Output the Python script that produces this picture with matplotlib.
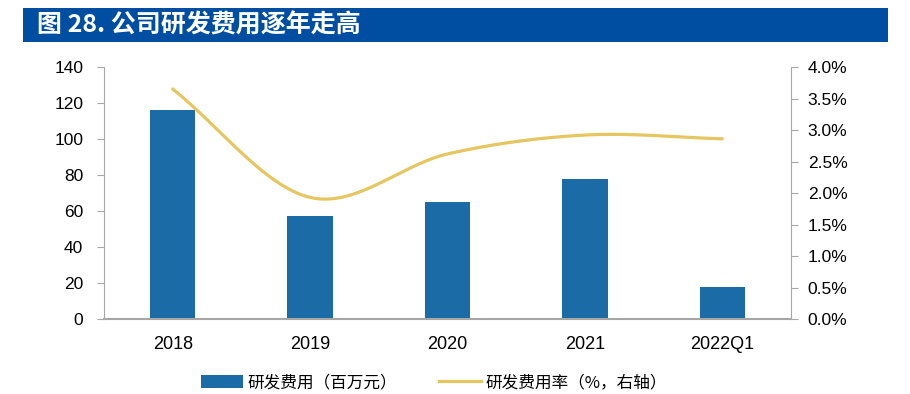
import numpy as np
import matplotlib
matplotlib.use("Agg")
import matplotlib.pyplot as plt
from matplotlib.patches import Rectangle
from matplotlib.lines import Line2D
from matplotlib.patches import Patch

plt.rcParams['font.family'] = ['Liberation Sans', 'Noto Sans CJK SC', 'DejaVu Sans']

categories = ["2018", "2019", "2020", "2021", "2022Q1"]
rd_expense = [116, 57, 65, 78, 18]          # 百万元
rd_ratio = [3.65, 1.93, 2.62, 2.92, 2.86]   # %
left_ticks = [0, 20, 40, 60, 80, 100, 120, 140]
right_ticks = [0.0, 0.5, 1.0, 1.5, 2.0, 2.5, 3.0, 3.5, 4.0]

bar_color = "#1B6CA6"
line_color = "#E5C660"
axis_color = "#A6A6A6"

fig = plt.figure(figsize=(9.1, 3.94), dpi=100)

# title bar
fig.patches.append(Rectangle((23/910, 1-42/394), (888-23)/910, 34/394,
                             transform=fig.transFigure, facecolor="#004EA2",
                             edgecolor="none", zorder=0))
fig.text(37/910, 1-25/394, "图 28. 公司研发费用逐年走高", color="white",
         fontsize=18, fontweight="bold", va="center", ha="left",
         family=['Noto Sans CJK SC', 'DejaVu Sans'])

ax = fig.add_axes([104/910, 1-319/394, (791-104)/910, (319-67)/394])
x = np.arange(len(categories))
ax.bar(x, rd_expense, width=0.33, color=bar_color, zorder=2)
ax.set_xlim(-0.5, len(categories)-0.5)
ax.set_ylim(0, 140)
ax.set_yticks(left_ticks)
ax.set_xticks(x)
ax.set_xticklabels(categories)
for s in ["top", "right"]:
    ax.spines[s].set_visible(False)
ax.spines["left"].set_color(axis_color)
ax.spines["bottom"].set_color(axis_color)
ax.spines["bottom"].set_linewidth(1.5)
ax.tick_params(axis="y", direction="out", length=5, color=axis_color, labelsize=12.5, pad=10)
ax.tick_params(axis="x", length=0, labelsize=13, pad=12)

ax2 = ax.twinx()
ax2.set_ylim(0, 4.0)
ax2.set_yticks(right_ticks)
ax2.set_yticklabels([f"{v:.1f}%" for v in right_ticks])
for s in ["top", "left", "bottom"]:
    ax2.spines[s].set_visible(False)
ax2.spines["right"].set_color(axis_color)
ax2.tick_params(axis="y", direction="out", length=5, color=axis_color, labelsize=12.5, pad=7)

# Catmull-Rom smoothing of the line (Excel-like smoothed line)
def catmull_rom(px, py, n=40):
    px = np.asarray(px, float); py = np.asarray(py, float)
    P = np.column_stack([px, py])
    P = np.vstack([2*P[0]-P[1], P, 2*P[-1]-P[-2]])
    out = []
    for i in range(1, len(P)-2):
        p0, p1, p2, p3 = P[i-1], P[i], P[i+1], P[i+2]
        t = np.linspace(0, 1, n)[:, None]
        seg = 0.5*((2*p1) + (-p0+p2)*t + (2*p0-5*p1+4*p2-p3)*t**2 + (-p0+3*p1-3*p2+p3)*t**3)
        out.append(seg)
    out = np.vstack(out)
    return out[:, 0], out[:, 1]

sx, sy = catmull_rom(x, rd_ratio)
ax2.plot(sx, sy, color=line_color, lw=2.3, solid_capstyle="round", zorder=3)

handles = [Patch(facecolor=bar_color, edgecolor="none"),
           Line2D([0], [0], color=line_color, lw=2.3)]
labels = ["研发费用（百万元）", "研发费用率（%，右轴）"]
fig.legend(handles, labels, loc="center", bbox_to_anchor=(434/910, 1-383/394),
           ncol=2, frameon=False, handlelength=2.5, handleheight=0.8,
           columnspacing=2.5, handletextpad=0.3,
           prop={'family': ['Noto Sans CJK SC', 'DejaVu Sans'], 'size': 12})

fig.savefig("out.png", dpi=100)
